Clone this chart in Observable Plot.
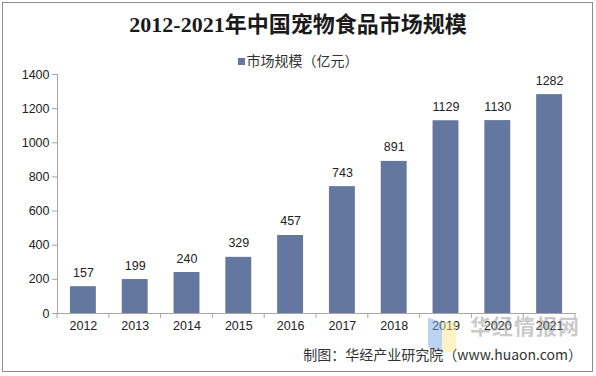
<!DOCTYPE html>
<html>
<head>
<meta charset="utf-8">
<script src="https://cdn.jsdelivr.net/npm/d3@7"></script>
<script src="https://cdn.jsdelivr.net/npm/@observablehq/plot@0.6"></script>
<style>
  html, body { margin: 0; padding: 0; background: #fff; }
  #wrap { position: relative; width: 596px; height: 376px; overflow: hidden; background: #fff; }
  #border { position: absolute; left: 2px; top: 2px; width: 589px; height: 368px; border: 1px solid #8c8c8c; box-sizing: content-box; }
  #title { position: absolute; left: 0; width: 596px; top: 10px; text-align: center;
    font-family: "Liberation Serif", "Noto Sans CJK SC", serif; font-weight: bold; font-size: 22px; color: #1a1a1a; line-height: 30px; }
  #legend { position: absolute; left: 0; width: 596px; top: 50px; text-align: center;
    font-family: "Noto Sans CJK SC", sans-serif; font-size: 14px; color: #333; line-height: 20px; }
  #legend .sw { display: inline-block; width: 7px; height: 7px; background: #64779e; margin-right: 2px; vertical-align: 1px; }
  #chart { position: absolute; left: 0; top: 64px; }
  #caption { position: absolute; right: 14px; top: 344px;
    font-family: "Noto Sans CJK SC", sans-serif; font-size: 14px; color: #333; line-height: 20px; }
  #wm { position: absolute; left: 470px; top: 311px; font-family: "Noto Sans CJK SC", sans-serif;
    font-weight: bold; font-size: 21px; color: rgba(150,150,150,0.5); line-height: 28px; letter-spacing: 1px; }
  #logo1 { position: absolute; left: 428px; top: 320px; width: 14px; height: 30px; background: rgba(120,170,230,0.5); transform: skewY(20deg); }
  #logo2 { position: absolute; left: 442px; top: 322px; width: 14px; height: 30px; background: rgba(250,230,140,0.5); }
</style>
</head>
<body>
<div id="wrap">
  <div id="border"></div>
  <div id="title">2012-2021年中国宠物食品市场规模</div>
  <div id="legend"><span class="sw"></span>市场规模（亿元）</div>
  <div id="chart"></div>
  <div id="logo1"></div><div id="logo2"></div>
  <div id="wm">华经情报网</div>
  <div id="caption">制图：华经产业研究院（www.huaon.com）</div>
</div>
<script>
const years = ["2012","2013","2014","2015","2016","2017","2018","2019","2020","2021"];
const values = [157, 199, 240, 329, 457, 743, 891, 1129, 1130, 1282];
const yTicks = [0, 200, 400, 600, 800, 1000, 1200, 1400];

const data = years.map((y, i) => ({year: y, value: values[i]}));
const axisColor = "#a6a6a6";

const plot = Plot.plot({
  width: 596,
  height: 275,
  marginTop: 10,
  marginBottom: 26,
  marginLeft: 57,
  marginRight: 21,
  style: {fontFamily: "'Liberation Sans', Arial, sans-serif", fontSize: "12.5px", color: "#222", background: "transparent"},
  x: {domain: years, paddingInner: 0.5, paddingOuter: 0.25, round: false, label: null},
  y: {domain: [0, 1400], ticks: yTicks, label: null},
  marks: [
    Plot.barY(data, {x: "year", y: "value", fill: "#64779e"}),
    Plot.text(data, {x: "year", y: "value", text: d => String(d.value), dy: -14, fill: "#222", fontSize: 12.5}),
    Plot.frame({anchor: "left", stroke: axisColor}),
    Plot.ruleY([0], {stroke: axisColor}),
    Plot.axisY({ticks: yTicks, tickFormat: d => String(d), tickSize: 5, tickPadding: 3, stroke: axisColor, fill: "#222", fontSize: 12.5, label: null}),
    Plot.axisX({tickSize: 0, tickPadding: 8, fill: "#222", fontSize: 12.5, label: null})
  ]
});
document.getElementById("chart").appendChild(plot);

// separator ticks between categories on the x axis, through the plot's x scale
const xs = plot.scale("x");
const ys = plot.scale("y");
const step = xs.step;
const y0 = ys.apply(0);
const starts = years.map(y => xs.apply(y) + xs.bandwidth / 2 - step / 2);
starts.push(starts[starts.length - 1] + step);
d3.select(plot).append("g").selectAll("line").data(starts).join("line")
  .attr("x1", d => d).attr("x2", d => d)
  .attr("y1", y0).attr("y2", y0 + 5)
  .attr("stroke", axisColor);
</script>
</body>
</html>
